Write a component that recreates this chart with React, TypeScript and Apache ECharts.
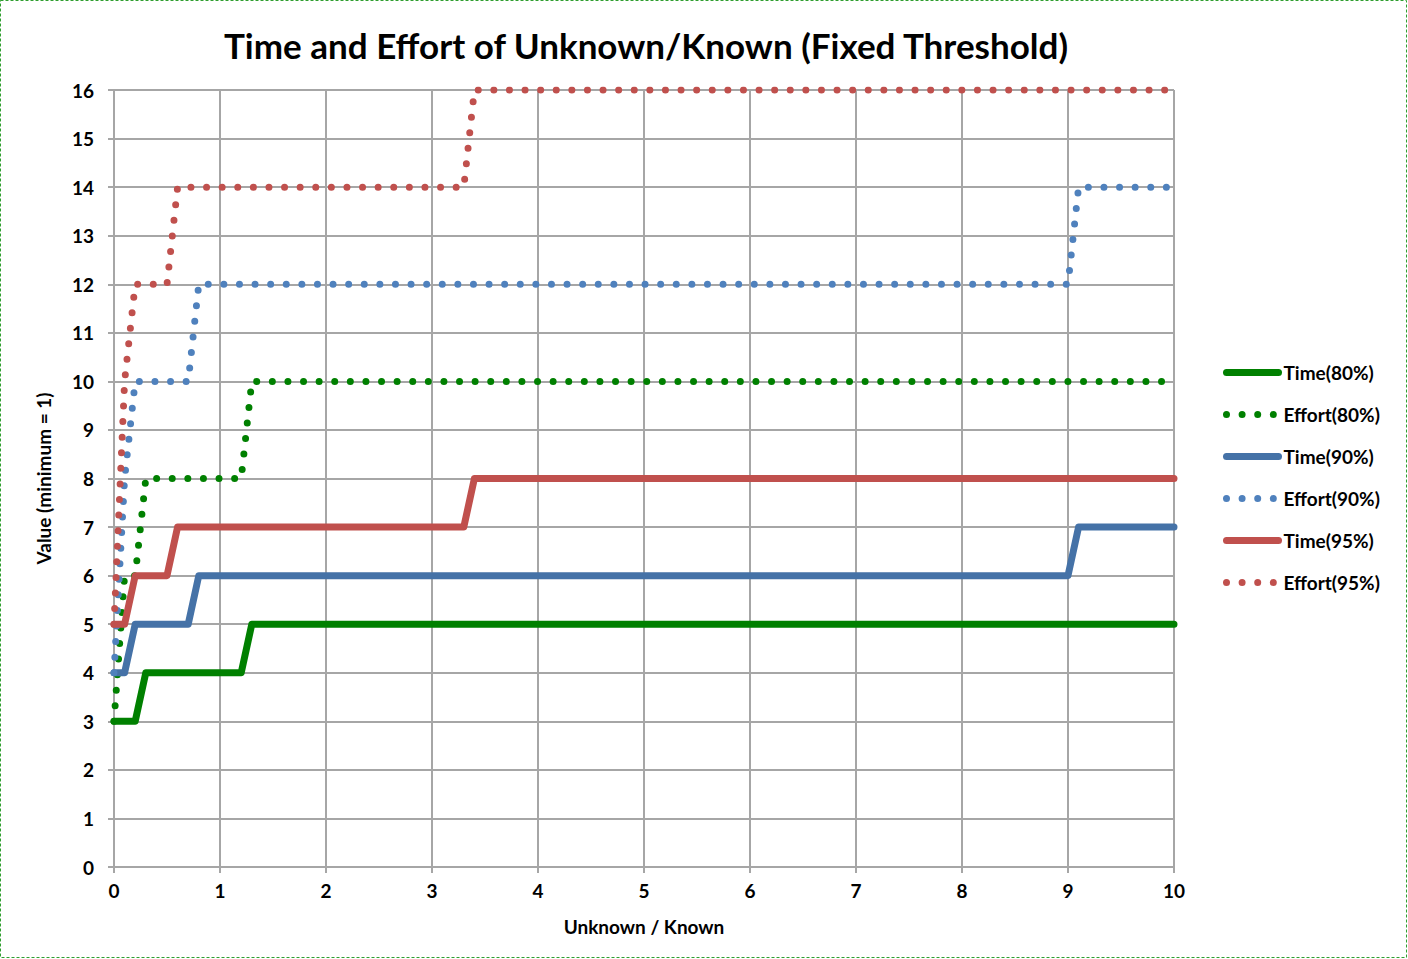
import React, { useEffect, useRef } from "react";
import * as echarts from "echarts";

const xTicks = [0, 1, 2, 3, 4, 5, 6, 7, 8, 9, 10];
const yTicks = [0, 1, 2, 3, 4, 5, 6, 7, 8, 9, 10, 11, 12, 13, 14, 15, 16];

const time80 = [[0, 3], [0.2, 3], [0.3, 4], [1.2, 4], [1.3, 5], [10, 5]];
const effort80 = [[0, 3], [0.1, 6], [0.2, 6], [0.3, 8], [1.2, 8], [1.3, 10], [10, 10]];
const time90 = [[0, 4], [0.1, 4], [0.2, 5], [0.7, 5], [0.8, 6], [9.0, 6], [9.1, 7], [10, 7]];
const effort90 = [[0, 4], [0.1, 8], [0.2, 10], [0.7, 10], [0.8, 12], [9.0, 12], [9.1, 14], [10, 14]];
const time95 = [[0, 5], [0.1, 5], [0.2, 6], [0.5, 6], [0.6, 7], [3.3, 7], [3.4, 8], [10, 8]];
const effort95 = [[0, 5], [0.1, 10], [0.2, 12], [0.5, 12], [0.6, 14], [3.3, 14], [3.4, 16], [10, 16]];

const seriesNames = ["Time(80%)", "Effort(80%)", "Time(90%)", "Effort(90%)", "Time(95%)", "Effort(95%)"];
const seriesData = [time80, effort80, time90, effort90, time95, effort95];
const seriesColors = ["#008000", "#008000", "#4572a7", "#4f81bd", "#c0504d", "#c0504d"];
const seriesDotted = [false, true, false, true, false, true];

const FONT = "Lato";

export default function App() {
  const ref = useRef<HTMLDivElement>(null);
  useEffect(() => {
    const chart = echarts.init(ref.current!, null, { renderer: "svg" });
    const gridColor = "#a6a6a6";
    const dotted = (c: string) => ({ color: c, width: 7, type: [0, 15.6], cap: "round", join: "round" });
    const solid = (c: string) => ({ color: c, width: 7, type: "solid", cap: "round", join: "round" });
    chart.setOption({
      animation: false,
      backgroundColor: "#ffffff",
      title: {
        text: "Time and Effort of Unknown/Known (Fixed Threshold)",
        left: 641,
        textAlign: "center",
        top: 22,
        textStyle: { fontFamily: FONT, fontWeight: "bold", fontSize: 35, color: "#000" },
      },
      graphic: [
        {
          type: "rect",
          shape: { x: 0.5, y: 0.5, width: 1406, height: 957 },
          style: { fill: "none", stroke: "#2f9e2f", lineWidth: 1, lineDash: [3, 2] },
          silent: true,
        },
      ],
      legend: {
        orient: "vertical",
        left: 1218,
        top: 358,
        itemWidth: 52,
        itemHeight: 14,
        itemGap: 23,
        itemStyle: { opacity: 0 },
        data: seriesNames.map((name, i) => ({
          name,
          itemStyle: { opacity: 0 },
          lineStyle: seriesDotted[i] ? dotted(seriesColors[i]) : solid(seriesColors[i]),
        })),
        textStyle: { fontFamily: FONT, fontWeight: "bold", fontSize: 19, color: "#000" },
      },
      grid: { left: 114, right: 234, top: 90, bottom: 92, containLabel: false },
      xAxis: {
        type: "value",
        min: 0,
        max: 10,
        interval: 1,
        name: "Unknown / Known",
        nameLocation: "middle",
        nameGap: 50,
        nameTextStyle: { fontFamily: FONT, fontWeight: "bold", fontSize: 19, color: "#000" },
        axisLine: { show: true, lineStyle: { color: gridColor, width: 2 } },
        axisTick: { show: true, length: 6, lineStyle: { color: gridColor, width: 2 } },
        splitLine: { show: true, lineStyle: { color: gridColor, width: 2 } },
        axisLabel: {
          fontFamily: FONT,
          fontWeight: "bold",
          fontSize: 19,
          color: "#000",
          margin: 14,
          formatter: (v: number) => (xTicks.includes(v) ? String(v) : ""),
        },
      },
      yAxis: {
        type: "value",
        min: 0,
        max: 16,
        interval: 1,
        name: "Value (minimum = 1)",
        nameLocation: "middle",
        nameGap: 61,
        nameRotate: 90,
        nameTextStyle: { fontFamily: FONT, fontWeight: "bold", fontSize: 19, color: "#000" },
        axisLine: { show: true, lineStyle: { color: gridColor, width: 2 } },
        axisTick: { show: true, length: 6, lineStyle: { color: gridColor, width: 2 } },
        splitLine: { show: true, lineStyle: { color: gridColor, width: 2 } },
        axisLabel: {
          fontFamily: FONT,
          fontWeight: "bold",
          fontSize: 19,
          color: "#000",
          margin: 20,
          formatter: (v: number) => (yTicks.includes(v) ? String(v) : ""),
        },
      },
      series: seriesNames.map((name, i) => ({
        name,
        type: "line",
        data: seriesData[i],
        showSymbol: false,
        symbol: "none",
        color: seriesColors[i],
        lineStyle: seriesDotted[i] ? dotted(seriesColors[i]) : solid(seriesColors[i]),
      })),
    });
    return () => chart.dispose();
  }, []);
  return (
    <div
      ref={ref}
      style={{ position: "fixed", left: 0, top: 0, width: 1408, height: 959 }}
    />
  );
}
